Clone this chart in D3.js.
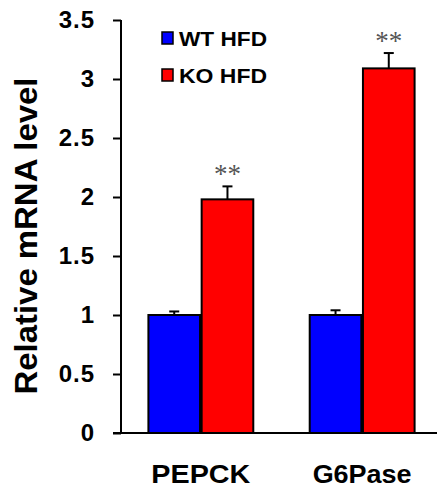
<!DOCTYPE html>
<html>
<head>
<meta charset="utf-8">
<script src="https://cdn.jsdelivr.net/npm/d3@7"></script>
<style>
  body { margin: 0; background: #fff; }
  svg { display: block; }
</style>
</head>
<body>
<div id="chart"></div>
<script>
// data
const genes = ["PEPCK", "G6Pase"]
const groups = ["WT HFD", "KO HFD"]
const colors = ["#0000ff", "#ff0000"]
const wtMeans = [1.00, 1.00]
const koMeans = [1.98, 3.09]
const wtErr = [0.03, 0.04]
const koErr = [0.11, 0.13]
const stars = ["", "**"]   // per group: stars drawn over KO bars
const yTicks = [0, 0.5, 1, 1.5, 2, 2.5, 3, 3.5]

const width = 437
const height = 492
const font = "'Liberation Sans', Arial, sans-serif"

const svg = d3.select("#chart").append("svg")
	.attr("width", width)
	.attr("height", height)

// scales
const y = d3.scaleLinear().domain([0, 3.5]).range([433, 20])
const x0 = d3.scaleBand().domain(genes).range([121, 442])
	.paddingInner(0.33).paddingOuter(0.16)
const x1 = d3.scaleBand().domain(groups).range([0, x0.bandwidth()]).padding(0.03)

// table of bars
const rows = []
genes.forEach((g, i) => {
	rows.push({ gene: g, group: groups[0], v: wtMeans[i], e: wtErr[i], c: colors[0], s: stars[0] })
	rows.push({ gene: g, group: groups[1], v: koMeans[i], e: koErr[i], c: colors[1], s: stars[1] })
})

// bars
svg.selectAll("rect.bar")
	.data(rows)
	.enter()
	.append("rect")
	.attr("class", "bar")
	.attr("x", d => x0(d.gene) + x1(d.group))
	.attr("y", d => y(d.v))
	.attr("width", x1.bandwidth())
	.attr("height", d => y(0) - y(d.v))
	.attr("fill", d => d.c)
	.attr("stroke", "#000")
	.attr("stroke-width", 2)

// error bars (upper only)
const err = svg.selectAll("g.err")
	.data(rows)
	.enter()
	.append("g")
	.attr("class", "err")
	.attr("transform", d => "translate(" + (x0(d.gene) + x1(d.group) + x1.bandwidth() / 2) + ",0)")
err.append("line")
	.attr("x1", 0).attr("x2", 0)
	.attr("y1", d => y(d.v)).attr("y2", d => y(d.v + d.e))
	.attr("stroke", "#000").attr("stroke-width", 2)
err.append("line")
	.attr("x1", -5).attr("x2", 5)
	.attr("y1", d => y(d.v + d.e)).attr("y2", d => y(d.v + d.e))
	.attr("stroke", "#000").attr("stroke-width", 2)

// significance stars
err.append("text")
	.text(d => d.s)
	.attr("y", d => y(d.v + d.e) - 3)
	.attr("text-anchor", "middle")
	.attr("font-family", "'Liberation Serif', 'Times New Roman', serif")
	.attr("font-size", "27px")
	.attr("fill", "#555")

// y axis
const yAxis = svg.append("g")
	.attr("transform", "translate(121,0)")
	.call(d3.axisLeft(y).tickValues(yTicks).tickSize(8).tickPadding(18).tickFormat(d3.format("")))
yAxis.select(".domain").attr("d", "M0," + y(3.5) + "V" + y(0)).attr("stroke-width", 2)
yAxis.selectAll(".tick line").attr("stroke-width", 2)
yAxis.selectAll(".tick text")
	.attr("font-family", font)
	.attr("font-size", "24px")
	.attr("font-weight", "bold")
	.attr("letter-spacing", "1px")
	.attr("fill", "#000")

// x axis line
svg.append("line")
	.attr("x1", 113).attr("x2", width)
	.attr("y1", y(0)).attr("y2", y(0))
	.attr("stroke", "#000").attr("stroke-width", 2)

// x labels
svg.selectAll("text.xlab")
	.data(genes)
	.enter()
	.append("text")
	.attr("class", "xlab")
	.text(d => d)
	.attr("x", d => x0(d) + x0.bandwidth() / 2)
	.attr("y", 483)
	.attr("text-anchor", "middle")
	.attr("font-family", font)
	.attr("font-size", "25px")
	.attr("font-weight", "bold")
	.attr("textLength", 99)
	.attr("lengthAdjust", "spacingAndGlyphs")

// y title
svg.append("text")
	.text("Relative mRNA level")
	.attr("transform", "translate(37,236) rotate(-90)")
	.attr("text-anchor", "middle")
	.attr("font-family", font)
	.attr("font-size", "31px")
	.attr("font-weight", "bold")
	.attr("textLength", 317)
	.attr("lengthAdjust", "spacingAndGlyphs")

// legend
const legend = svg.selectAll("g.legend")
	.data(groups)
	.enter()
	.append("g")
	.attr("class", "legend")
	.attr("transform", (d, i) => "translate(162," + (32 + i * 37) + ")")
legend.append("rect")
	.attr("width", 11).attr("height", 12)
	.attr("fill", (d, i) => colors[i])
	.attr("stroke", "#000").attr("stroke-width", 1.5)
legend.append("text")
	.text(d => d)
	.attr("x", 17)
	.attr("y", 14)
	.attr("font-family", font)
	.attr("font-size", "20px")
	.attr("font-weight", "bold")
	.attr("textLength", 88)
	.attr("lengthAdjust", "spacingAndGlyphs")
</script>
</body>
</html>
